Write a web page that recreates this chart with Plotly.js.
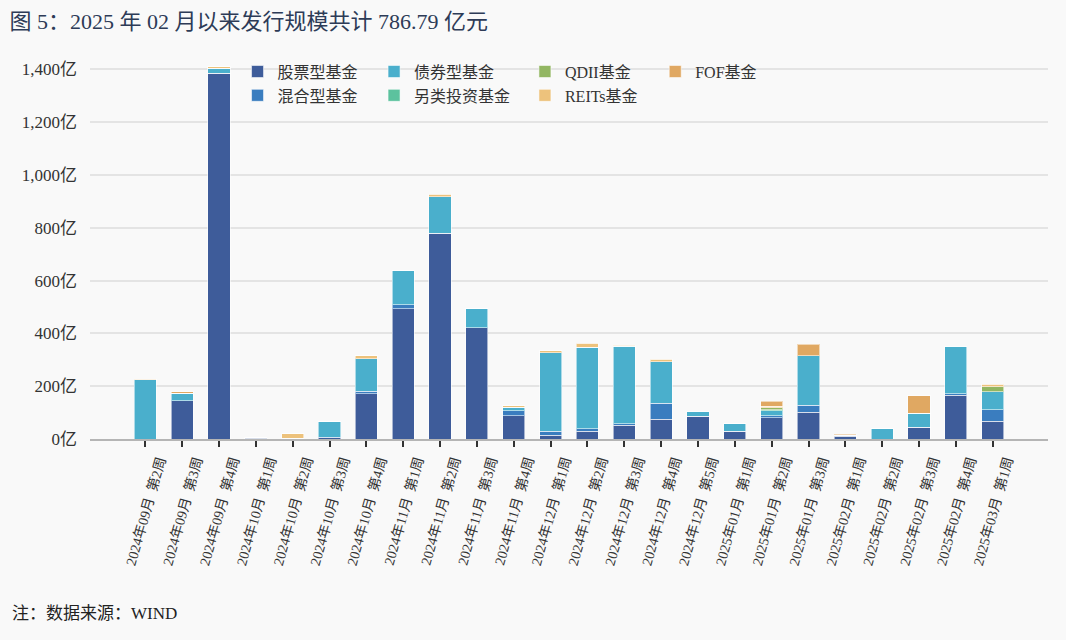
<!DOCTYPE html>
<html>
<head>
<meta charset="utf-8">
<script src="https://cdn.plot.ly/plotly-3.0.1.min.js"></script>
<style>
  html, body { margin: 0; padding: 0; background: #f9f9f9; }
  #chart { width: 1066px; height: 640px; }
</style>
</head>
<body>
<div id="chart"></div>
<script>
// ---- data (亿元) ----
const months = ['2024年09月','2024年09月','2024年09月','2024年10月','2024年10月','2024年10月','2024年10月',
  '2024年11月','2024年11月','2024年11月','2024年11月','2024年12月','2024年12月','2024年12月','2024年12月','2024年12月',
  '2025年01月','2025年01月','2025年01月','2025年02月','2025年02月','2025年02月','2025年02月','2025年03月'];
const weeks = ['第2周','第3周','第4周','第1周','第2周','第3周','第4周',
  '第1周','第2周','第3周','第4周','第1周','第2周','第3周','第4周','第5周',
  '第1周','第2周','第3周','第1周','第2周','第3周','第4周','第1周'];

const stockFund  = [0, 145, 1385, 3, 3, 5, 171, 493, 780, 422, 88, 15, 29, 53, 75, 87, 29, 80, 101, 10, 0, 44, 166, 68];
const mixedFund  = [0, 0, 0, 2, 0, 2, 9, 15, 0, 0, 19, 15, 9, 5, 60, 0, 0, 8, 27, 4, 0, 0, 6, 43];
const bondFund   = [224, 28, 18, 0, 0, 58, 124, 129, 138, 71, 13, 296, 310, 293, 157, 18, 29, 19, 187, 0, 39, 54, 180, 67];
const altFund    = [0, 0, 0, 0, 0, 0, 0, 0, 0, 0, 0, 0, 0, 0, 0, 0, 0, 3, 0, 0, 0, 0, 0, 0];
const qdiiFund   = [0, 0, 0, 0, 0, 0, 0, 0, 0, 0, 0, 0, 0, 0, 0, 0, 0, 8, 0, 0, 0, 0, 0, 19];
const reitsFund  = [2, 0, 7, 0, 16, 0, 11, 0, 8, 0, 5, 8, 15, 4, 10, 0, 0, 6, 0, 0, 0, 0, 0, 10];
const fofFund    = [0, 6, 0, 0, 0, 0, 0, 0, 0, 0, 0, 0, 0, 0, 0, 0, 0, 19, 44, 4, 0, 66, 0, 0];

const yTickValues = [0, 200, 400, 600, 800, 1000, 1200, 1400];
const yTickLabels = ['0亿', '200亿', '400亿', '600亿', '800亿', '1,000亿', '1,200亿', '1,400亿'];

const seriesNames = ['股票型基金','混合型基金','债券型基金','另类投资基金','QDII基金','REITs基金','FOF基金'];
const seriesValues = [stockFund, mixedFund, bondFund, altFund, qdiiFund, reitsFund, fofFund];
const seriesColors = ['#3e5c9a','#3a7dbf','#4aafcc','#5cc29e','#92b662','#edc27c','#e0a862'];
const seriesLegend = ['legend','legend','legend2','legend2','legend3','legend3','legend4'];

const categories = months.map((m, i) => m + '  ' + weeks[i]);

const FONT = '"Liberation Serif", "DejaVu Serif", "Noto Sans CJK SC", serif';

const traces = seriesNames.map((name, k) => ({
  type: 'bar',
  name: name,
  x: categories,
  y: seriesValues[k],
  legend: seriesLegend[k],
  legendgroup: name,
  marker: { color: seriesColors[k], line: { color: 'rgba(255,255,255,0.55)', width: 1 } },
  hovertemplate: '%{x}<br>' + name + ': %{y}亿<extra></extra>'
}));

const legendBase = {
  orientation: 'v',
  xanchor: 'left', yanchor: 'top',
  y: 1.025,
  bgcolor: 'rgba(0,0,0,0)',
  font: { family: FONT, size: 16, color: '#333' },
  tracegroupgap: 7,
  traceorder: 'normal'
};

const layout = {
  width: 1066, height: 640,
  margin: { l: 90, r: 18, t: 64, b: 201 },
  paper_bgcolor: '#f9f9f9',
  plot_bgcolor: '#f9f9f9',
  barmode: 'stack',
  bargap: 0.4,
  showlegend: true,
  title: {
    text: '图 5：2025 年 02 月以来发行规模共计 786.79 亿元',
    xref: 'container', yref: 'container',
    x: 0.009, xanchor: 'left',
    y: 0.966, yanchor: 'middle',
    font: { family: FONT, size: 22, color: '#2d3b57' }
  },
  xaxis: {
    type: 'category',
    range: [-1.5, 24.5],
    tickangle: -74,
    ticklabelshift: 14,
    ticks: 'outside', ticklen: 6, tickwidth: 1.5, tickcolor: '#333',
    showline: true, linecolor: '#b5b5b5', linewidth: 2,
    showgrid: false,
    tickfont: { family: FONT, size: 14, color: '#333' },
    fixedrange: true
  },
  yaxis: {
    range: [0, 1420],
    tickmode: 'array',
    tickvals: yTickValues,
    ticktext: yTickLabels,
    showgrid: true, gridcolor: '#e4e4e4', gridwidth: 1.5,
    zeroline: false,
    showline: false,
    ticks: '',
    ticklabelstandoff: 12,
    tickfont: { family: FONT, size: 17, color: '#333' },
    fixedrange: true
  },
  legend:  Object.assign({}, legendBase, { x: 0.154 }),
  legend2: Object.assign({}, legendBase, { x: 0.2965 }),
  legend3: Object.assign({}, legendBase, { x: 0.454 }),
  legend4: Object.assign({}, legendBase, { x: 0.59 }),
  annotations: [{
    text: '注：数据来源：WIND',
    xref: 'paper', yref: 'paper',
    x: -0.0835, xanchor: 'left',
    y: -0.464, yanchor: 'middle',
    showarrow: false,
    font: { family: FONT, size: 17, color: '#222' }
  }]
};

Plotly.newPlot('chart', traces, layout, { displayModeBar: false, responsive: false });
</script>
</body>
</html>
